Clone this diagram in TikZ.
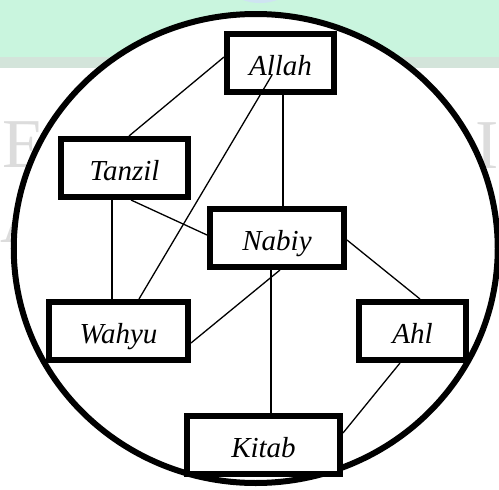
\documentclass[tikz,border=0pt]{standalone}
\usepackage{fontspec}
\setmainfont{Liberation Serif}
\definecolor{band}{HTML}{C9F5DE}
\definecolor{bandline}{HTML}{D3E4DA}
\definecolor{wmblue}{HTML}{CFE4F2}
\definecolor{wmgray}{HTML}{DCDCDC}
\begin{document}
\begin{tikzpicture}[x=1pt,y=-1pt,
  box/.style={draw, line width=6pt, fill=white, rectangle, inner sep=0pt,
    minimum height=58pt, font=\fontsize{29}{34}\selectfont\itshape,
    text height=25pt, text depth=0pt},
  link/.style={line width=1.3pt},
  wm/.style={text=wmgray, font=\fontsize{70}{80}\selectfont, inner sep=0pt}]
\useasboundingbox (0,0) rectangle (499,490);
% watermark background
\fill[band] (0,0) rectangle (499,57);
\fill[bandline] (0,57) rectangle (499,68);
\fill[wmblue] (260,-22) ellipse [x radius=36, y radius=25];
\node[wm, anchor=base west] (wmE) at (2,167) {E};
\node[wm, anchor=base west] (wmA) at (0,242) {A};
\node[wm, anchor=base west] (wmI) at (475,168) {I};
% big ellipse
\draw[line width=6pt, fill=white] (255.75,248.5) ellipse [x radius=242, y radius=234.5];
% nodes
\node[box, minimum width=107pt] (allah) at (280.5,63) {Allah};
\node[box, minimum width=127pt] (tanzil) at (124.5,168) {Tanzil};
\node[box, minimum width=134pt] (nabiy) at (277,238) {Nabiy};
\node[box, minimum width=139pt] (wahyu) at (118.5,331) {Wahyu};
\node[box, minimum width=107pt] (ahl) at (412.5,331) {Ahl};
\node[box, minimum width=153pt] (kitab) at (263.5,444.5) {Kitab};
% connectors
\draw[link] (allah.west |- 0,57) -- ([xshift=4.5pt]tanzil.north);
\draw[link] (allah.south -| 283,0) -- (nabiy.north -| 283,0);
\draw[link] (tanzil.south -| 112,0) -- (wahyu.north -| 112,0);
\draw[link] ([xshift=6.5pt]tanzil.south) -- (nabiy.west |- 0,235);
\draw[link] (nabiy.south -| 280,0) -- (wahyu.east |- 0,343);
\draw[link] (nabiy.south -| 271,0) -- (kitab.north -| 271,0);
\draw[link] (nabiy.east |- 0,240) -- (ahl.north -| 420,0);
\draw[link] (ahl.south -| 400,0) -- (kitab.east |- 0,433);
\coordinate (aw) at (272,75);
\draw[link] (aw) -- ([xshift=20.5pt]wahyu.north);
\end{tikzpicture}
\end{document}
